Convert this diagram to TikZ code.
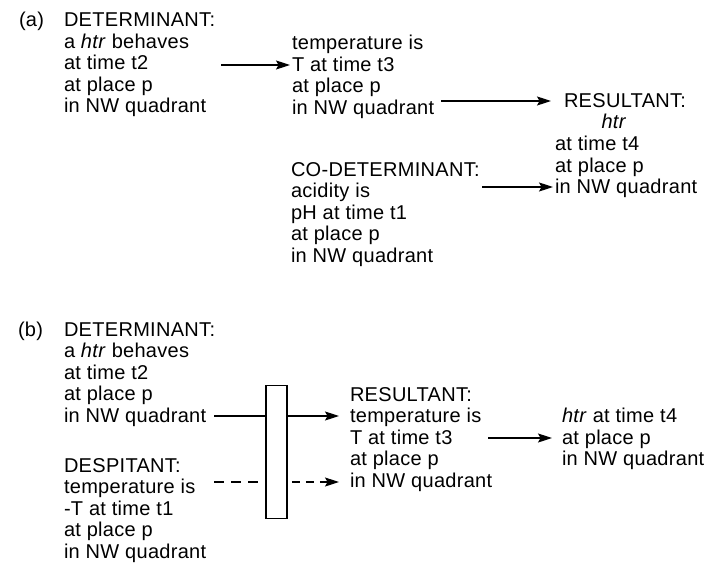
\documentclass[tikz,border=0pt]{standalone}
\usepackage{fontspec}
\setmainfont{Liberation Sans}[LetterSpace=1.5]
\usetikzlibrary{arrows.meta}
% one text node per line, baselines 21.5pt apart: name, x, first baseline, lines
\newcommand\textlines[4]{%
  \foreach \t [count=\i] in {#4} {
    \node[txt] (#1-\i) at (#2, {#3+(\i-1)*21.5}) {\t};
  }}
\begin{document}
\begin{tikzpicture}[x=1pt, y=-1pt,
  txt/.style={anchor=base west, inner sep=0pt, outer sep=0pt,
    font=\fontsize{20}{24}\selectfont},
  conn/.style={line width=1.2pt, -{Stealth[length=14pt, width=9pt, inset=2.5pt]}},
  plain/.style={line width=1.2pt},
  gatebox/.style={draw, line width=1.5pt, inner sep=0pt,
    minimum width=21pt, minimum height=133pt},
]
\useasboundingbox (0,0) rectangle (708,572);

% ---------- (a) ----------
\node[txt] (la) at (19,27) {(a)};
\textlines{det}{64}{27}{DETERMINANT:, a \textit{htr} behaves, at time t2, at place p, in NW quadrant}
\textlines{mid}{292}{50}{temperature is, T at time t3, at place p, in NW quadrant}
\node[txt] (res-1) at (564,108) {RESULTANT:};
\node[txt, anchor=base] (res-2) at (614,129) {\textit{htr}};
\textlines{res}{555}{150.5}{at time t4, at place p, in NW quadrant}
\textlines{cod}{291}{176}{CO-DETERMINANT:, acidity is, pH at time t1, at place p, in NW quadrant}

\coordinate (a1) at (221,65);
\draw[conn, shorten >=2pt] (a1) -- (a1 -| mid-2.west);
\coordinate (a2) at (441,101);
\draw[conn, shorten >=4pt] (a2) -- (a2 -| res-1.west);
\coordinate (a3) at (482,187);
\draw[conn, shorten >=2pt] (a3) -- (a3 -| res-3.west);

% ---------- (b) ----------
\node[txt] (lb) at (18,336) {(b)};
\textlines{bdet}{64}{336}{DETERMINANT:, a \textit{htr} behaves, at time t2, at place p, in NW quadrant}
\textlines{bres}{350}{401}{RESULTANT:, temperature is, T at time t3, at place p, in NW quadrant}
\textlines{bout}{562}{422.5}{\textit{htr} at time t4, at place p, in NW quadrant}
\textlines{desp}{64}{472}{DESPITANT:, temperature is, -T at time t1, at place p, in NW quadrant}

\node[gatebox] (gate) at (276.5,452) {};

% determinant through the gate
\coordinate (b1) at (214,416);
\draw[plain] (b1) -- (b1 -| gate.west);
\draw[conn, shorten >=11pt] (gate.east |- b1) -- (b1 -| bres-2.west);

% despitant, dashed
\coordinate (b2) at (214,482);
\draw[plain, dash pattern=on 10pt off 7pt] (b2) -- (b2 -| gate.west);
\draw[conn, dash pattern=on 8pt off 6pt, dash phase=10pt, shorten >=11pt]
  (gate.east |- b2) -- (b2 -| bres-5.west);

% resultant to the htr state
\coordinate (b3) at (488,438);
\draw[conn, shorten >=10pt] (b3) -- (b3 -| bout-2.west);
\end{tikzpicture}
\end{document}
